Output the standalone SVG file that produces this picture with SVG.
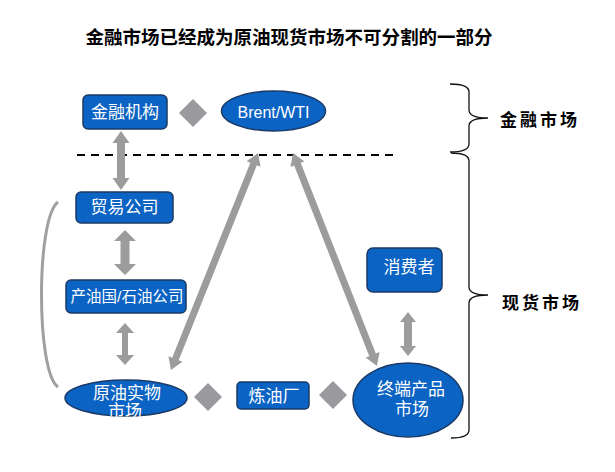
<svg xmlns="http://www.w3.org/2000/svg" width="615" height="472" viewBox="0 0 615 472">
<style>
.box{fill:#0B63C3;stroke:#1B3A66;stroke-width:1.5}
.lbl{fill:#FFFFFF;font-family:"Liberation Sans","Noto Sans CJK SC",sans-serif;font-size:17px;text-anchor:middle;dominant-baseline:central}
.arr{fill:#9C9C9C}
.dia{fill:#9A9A9E}
.brace{fill:none;stroke:#111;stroke-width:1.3}
.side{fill:#000;font-family:"Noto Sans CJK SC",sans-serif;font-size:17px;font-weight:bold;letter-spacing:3px;text-anchor:middle;dominant-baseline:central}
</style>
<rect width="615" height="472" fill="#FFFFFF"/>
<text x="289" y="36" style="fill:#000;font-family:'Noto Sans CJK SC',sans-serif;font-size:18.5px;font-weight:bold;text-anchor:middle;dominant-baseline:central">金融市场已经成为原油现货市场不可分割的一部分</text>

<g id="connectors">
  <line x1="77" y1="155" x2="393" y2="155" stroke="#000" stroke-width="2" stroke-dasharray="8,6"/>
  <path d="M58,202 C36,218 36,372 58,387" fill="none" stroke="#A0A0A0" stroke-width="3"/>
  <polygon class="arr" points="121,131 129.5,143 125,143 125,178 129.5,178 121,190 112.5,178 117,178 117,143 112.5,143"/>
  <polygon class="arr" points="125,230 136,241 129.5,241 129.5,264 136,264 125,275 114,264 120.5,264 120.5,241 114,241"/>
  <polygon class="arr" points="125,323 134,333 128,333 128,355 134,355 125,365 116,355 122,355 122,333 116,333"/>
  <polygon class="arr" points="408,312 416,322 412,322 412,346 416,346 408,356 400,346 404,346 404,322 400,322"/>
  <polygon class="arr" transform="translate(214.5,261.5) rotate(21.85)" points="0,-117 7.5,-105 3.5,-105 3.5,105 7.5,105 0,117 -7.5,105 -3.5,105 -3.5,-105 -7.5,-105"/>
  <polygon class="arr" transform="translate(335,259.5) rotate(-21.5)" points="0,-114.5 7.5,-102.5 3.5,-102.5 3.5,102.5 7.5,102.5 0,114.5 -7.5,102.5 -3.5,102.5 -3.5,-102.5 -7.5,-102.5"/>
  <polygon class="dia" points="193,99 207,113 193,127 179,113"/>
  <polygon class="dia" points="208,383 222,397 208,411 194,397"/>
  <polygon class="dia" points="333,381 347,395 333,409 319,395"/>
  <path class="brace" d="M450,84 Q469,84 469,92 L469,110 Q469,118 488,118 Q469,118 469,126 L469,144 Q469,152 450,152"/>
  <path class="brace" d="M451,153 Q469,153 469,161 L469,287 Q469,295 488,295 Q469,295 469,303 L469,430 Q469,438 451,438"/>
</g>

<g id="n-jinrongjigou">
  <rect class="box" x="83" y="95" width="84" height="34" rx="5"/>
  <text class="lbl" x="125" y="112">金融机构</text>
</g>
<g id="n-brent">
  <ellipse class="box" cx="273.5" cy="111" rx="52" ry="20"/>
  <text class="lbl" x="273.5" y="112" style="font-size:16px">Brent/WTI</text>
</g>
<g id="n-maoyi">
  <rect class="box" x="76" y="192" width="97" height="31" rx="5"/>
  <text class="lbl" x="124.5" y="207">贸易公司</text>
</g>
<g id="n-chanyouguo">
  <rect class="box" x="66" y="280" width="120" height="33" rx="5"/>
  <text class="lbl" x="127" y="296" style="font-size:15.5px">产油国/石油公司</text>
</g>
<g id="n-yuanyou">
  <ellipse class="box" cx="126" cy="398" rx="61" ry="18"/>
  <text class="lbl" x="127" y="393">原油实物</text>
  <text class="lbl" x="125" y="411">市场</text>
</g>
<g id="n-lianyouchang">
  <rect class="box" x="237" y="382" width="72" height="27" rx="4"/>
  <text class="lbl" x="274" y="396">炼油厂</text>
</g>
<g id="n-zhongduan">
  <ellipse class="box" cx="408" cy="400" rx="55" ry="37"/>
  <text class="lbl" x="411" y="389">终端产品</text>
  <text class="lbl" x="412" y="409">市场</text>
</g>
<g id="n-xiaofeizhe">
  <rect class="box" x="367" y="248" width="75" height="44" rx="6"/>
  <text class="lbl" x="409" y="267">消费者</text>
</g>
<g id="labels">
  <text class="side" x="540" y="118">金融市场</text>
  <text class="side" x="542" y="301">现货市场</text>
</g>
</svg>
